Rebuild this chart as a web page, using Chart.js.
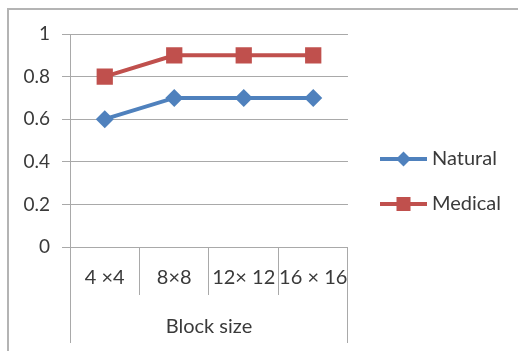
<!DOCTYPE html>
<html>
<head>
<meta charset="utf-8">
<script src="https://cdn.jsdelivr.net/npm/chart.js@4/dist/chart.umd.min.js"></script>
<style>
  html, body { margin: 0; padding: 0; background: #ffffff; }
  #wrap { width: 518px; height: 351px; }
</style>
</head>
<body>
<div id="wrap"><canvas id="c" width="518" height="351"></canvas></div>
<script>
// Block sizes on the category axis
const categories = ['4 \u00d74', '8\u00d78', '12\u00d7 12', '16 \u00d7 16'];
// Scores per image set
const natural = [0.6, 0.7, 0.7, 0.7];
const medical = [0.8, 0.9, 0.9, 0.9];
// Value axis labels, bottom to top
const yTickLabels = ['0', '0.2', '0.4', '0.6', '0.8', '1'];
const seriesNames = ['Natural', 'Medical'];
const xTitle = 'Block size';

const BLUE = '#4f81bd';
const RED = '#c0504d';
const TEXT = '#3a3a3a';
const LINE = '#a9a9a9';
const FONT = 'Lato, "Open Sans", sans-serif';

// Legend swatch: a short line with the series marker in the middle
function makeSwatch(color, marker) {
  const c = document.createElement('canvas');
  c.width = 59; c.height = 20;
  const g = c.getContext('2d');
  const x0 = 12, x1 = 59, cy = 10;
  g.strokeStyle = color; g.lineWidth = 4;
  g.beginPath(); g.moveTo(x0, cy); g.lineTo(x1, cy); g.stroke();
  const mx = (x0 + x1) / 2;
  g.fillStyle = color;
  if (marker === 'diamond') {
    const r = 7.5;
    g.beginPath();
    g.moveTo(mx - r, cy); g.lineTo(mx, cy - r); g.lineTo(mx + r, cy); g.lineTo(mx, cy + r);
    g.closePath(); g.fill();
  } else {
    const s = 7;
    g.fillRect(mx - s, cy - s, 2 * s, 2 * s);
  }
  return c;
}
const swatches = [makeSwatch(BLUE, 'diamond'), makeSwatch(RED, 'square')];

function align(v) { return Math.round(v - 0.5) + 0.5; }

// Outer frame and the long outer separators of the category axis
const frame = {
  id: 'frame',
  afterDraw(chart) {
    const ctx = chart.ctx;
    const area = chart.chartArea;
    ctx.save();
    ctx.strokeStyle = '#b4b4b4';
    ctx.lineWidth = 2;
    ctx.beginPath();
    ctx.moveTo(8, 351); ctx.lineTo(8, 9); ctx.lineTo(518, 9);
    ctx.stroke();
    ctx.strokeStyle = LINE;
    ctx.lineWidth = 1;
    ctx.beginPath();
    [area.left, area.right].forEach(x => {
      ctx.moveTo(align(x), area.bottom);
      ctx.lineTo(align(x), area.bottom + 96);
    });
    ctx.stroke();
    ctx.restore();
  }
};

new Chart(document.getElementById('c'), {
  type: 'line',
  data: {
    labels: categories,
    datasets: [
      {
        label: seriesNames[0], data: natural,
        borderColor: BLUE, backgroundColor: BLUE, borderWidth: 4,
        pointStyle: 'rectRot', pointRadius: 9, pointHoverRadius: 9,
        pointBorderWidth: 0, tension: 0
      },
      {
        label: seriesNames[1], data: medical,
        borderColor: RED, backgroundColor: RED, borderWidth: 4,
        pointStyle: 'rect', pointRadius: 11.5, pointHoverRadius: 11.5,
        pointBorderWidth: 0, tension: 0
      }
    ]
  },
  options: {
    responsive: false,
    animation: false,
    events: [],
    layout: { padding: { top: 34, right: 7, bottom: 22, left: 0 } },
    plugins: {
      tooltip: { enabled: false },
      legend: {
        position: 'right',
        maxWidth: 166,
        labels: {
          usePointStyle: true,
          pointStyleWidth: 49,
          padding: 25,
          color: TEXT,
          font: { family: FONT, size: 20 },
          generateLabels(chart) {
            const items = Chart.defaults.plugins.legend.labels.generateLabels(chart);
            items.forEach((it, i) => { it.pointStyle = swatches[i]; });
            return items;
          }
        }
      }
    },
    scales: {
      x: {
        offset: true,
        grid: { offset: true, drawOnChartArea: false, drawTicks: true, tickLength: 48, color: LINE },
        border: { color: LINE },
        ticks: { color: TEXT, font: { family: FONT, size: 20 }, padding: -29, maxRotation: 0, autoSkip: false },
        title: { display: true, text: xTitle, color: TEXT, font: { family: FONT, size: 20 }, padding: { top: 0, bottom: -10 } },
        afterFit(scale) { scale.height = 82; }
      },
      y: {
        min: 0, max: 1,
        grid: { color: LINE, tickLength: 8 },
        border: { color: LINE },
        ticks: {
          stepSize: 0.2, color: TEXT, padding: 12,
          font: { family: FONT, size: 19 },
          callback(v, i) { return yTickLabels[i]; }
        },
        afterFit(scale) { scale.width = 70; }
      }
    }
  },
  plugins: [frame]
});
</script>
</body>
</html>
